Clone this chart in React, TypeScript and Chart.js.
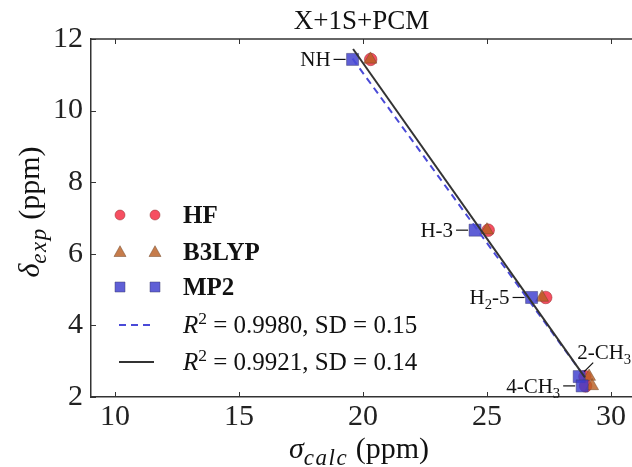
import React, { useEffect, useRef } from "react";
import { Chart, registerables } from "chart.js";
Chart.register(...registerables);

const pointLabels = ["NH", "H-3", "H2-5", "2-CH3", "4-CH3"];
const deltaExp = [11.43, 6.66, 4.78, 2.57, 2.31];
const sigmaHF = [20.31, 25.05, 27.37, 28.95, 28.98];
const sigmaB3LYP = [20.3, 25.0, 27.22, 29.12, 29.24];
const sigmaMP2 = [19.58, 24.52, 26.8, 28.72, 28.84];
const fitDashedX = [19.58, 28.95];
const fitDashedY = [11.45, 2.55];
const fitSolidX = [19.6, 28.95];
const fitSolidY = [11.72, 2.55];
const xTicks = [10, 15, 20, 25, 30];
const yTicks = [2, 4, 6, 8, 10, 12];
const seriesNames = ["HF", "B3LYP", "MP2"];
const fitR2 = ["0.9980", "0.9921"];
const fitSD = ["0.15", "0.14"];
const chartTitle = "X+1S+PCM";

const SERIF = "'Liberation Serif', 'DejaVu Serif', serif";
const COLORS = {
  hf: "rgba(245,55,75,0.88)",
  hfEdge: "rgba(140,40,40,0.8)",
  b3: "rgba(185,95,35,0.82)",
  b3Edge: "rgba(110,70,40,0.8)",
  mp2: "rgba(60,60,205,0.82)",
  mp2Edge: "rgba(60,60,110,0.8)",
  dashed: "#4a4ad8",
  solid: "#333333",
};

type Seg = { t: string; sub?: boolean; sup?: boolean; italic?: boolean; bold?: boolean; size?: number; ls?: number };

function parseLabel(s: string): Seg[] {
  const segs: Seg[] = [];
  let cur = "";
  for (let i = 0; i < s.length; i++) {
    const c = s[i];
    const prev = i > 0 ? s[i - 1] : "";
    if (/[0-9]/.test(c) && /[A-Za-z]/.test(prev)) {
      if (cur) segs.push({ t: cur });
      cur = "";
      segs.push({ t: c, sub: true });
    } else cur += c;
  }
  if (cur) segs.push({ t: cur });
  return segs;
}

function segSize(seg: Seg, size: number) {
  if (seg.size) return seg.size;
  return seg.sub || seg.sup ? size * 0.7 : size;
}
function segFont(seg: Seg, size: number) {
  return `${seg.italic ? "italic " : ""}${seg.bold ? "bold " : ""}${segSize(seg, size)}px ${SERIF}`;
}
function segWidth(ctx: CanvasRenderingContext2D, s: Seg, size: number) {
  ctx.font = segFont(s, size);
  return ctx.measureText(s.t).width + (s.ls || 0) * s.t.length;
}
function measureRich(ctx: CanvasRenderingContext2D, segs: Seg[], size: number) {
  let w = 0;
  for (const s of segs) w += segWidth(ctx, s, size);
  return w;
}
function drawRich(
  ctx: CanvasRenderingContext2D,
  segs: Seg[],
  x: number,
  yMid: number,
  size: number,
  align: "left" | "right" | "center"
) {
  const w = measureRich(ctx, segs, size);
  let cx = align === "left" ? x : align === "right" ? x - w : x - w / 2;
  const base = yMid + size * 0.33;
  ctx.textBaseline = "alphabetic";
  ctx.textAlign = "left";
  for (const s of segs) {
    ctx.font = segFont(s, size);
    const dy = s.sub ? size * 0.24 : s.sup ? -size * 0.38 : 0;
    if (s.ls) {
      let lx = cx;
      for (const ch of s.t) {
        ctx.fillText(ch, lx, base + dy);
        lx += ctx.measureText(ch).width + s.ls;
      }
    } else ctx.fillText(s.t, cx, base + dy);
    cx += segWidth(ctx, s, size);
  }
}

function drawMarker(ctx: CanvasRenderingContext2D, kind: string, x: number, y: number, r: number, fill: string, edge: string) {
  ctx.beginPath();
  if (kind === "circle") ctx.arc(x, y, r, 0, Math.PI * 2);
  else if (kind === "rect") ctx.rect(x - r, y - r, 2 * r, 2 * r);
  else {
    ctx.moveTo(x, y - r * 1.05);
    ctx.lineTo(x + r, y + r * 0.75);
    ctx.lineTo(x - r, y + r * 0.75);
    ctx.closePath();
  }
  ctx.fillStyle = fill;
  ctx.fill();
  ctx.strokeStyle = edge;
  ctx.lineWidth = 0.6;
  ctx.stroke();
}

const decorPlugin = {
  id: "decor",
  afterDraw(chart: any) {
    const ctx: CanvasRenderingContext2D = chart.ctx;
    const { left, right, top, bottom } = chart.chartArea;
    const xs = chart.scales.x;
    const ys = chart.scales.y;
    ctx.save();
    // top border
    ctx.strokeStyle = "#333";
    ctx.lineWidth = 1.5;
    ctx.beginPath();
    ctx.moveTo(left, top);
    ctx.lineTo(right, top);
    ctx.stroke();
    // inward ticks
    ctx.lineWidth = 1;
    ctx.beginPath();
    for (const v of xTicks) {
      const px = Math.round(xs.getPixelForValue(v)) + 0.5;
      ctx.moveTo(px, bottom);
      ctx.lineTo(px, bottom - 5);
      ctx.moveTo(px, top);
      ctx.lineTo(px, top + 5);
    }
    for (const v of yTicks) {
      const py = Math.round(ys.getPixelForValue(v)) + 0.5;
      ctx.moveTo(left, py);
      ctx.lineTo(left + 5, py);
    }
    ctx.stroke();

    ctx.fillStyle = "#111";
    // title
    ctx.font = `27px ${SERIF}`;
    ctx.textAlign = "center";
    ctx.textBaseline = "middle";
    ctx.fillText(chartTitle, (left + right) / 2, 22);

    // axis titles
    drawRich(
      ctx,
      [
        { t: "σ", italic: true, size: 30 },
        { t: "calc", italic: true, sub: true, size: 23, ls: 1.5 },
        { t: " (ppm)", size: 30 },
      ],
      359,
      448,
      29,
      "center"
    );
    ctx.save();
    ctx.translate(29, 212);
    ctx.rotate(-Math.PI / 2);
    drawRich(
      ctx,
      [
        { t: "δ", italic: true, size: 30 },
        { t: "exp", italic: true, sub: true, size: 23, ls: 1.5 },
        { t: " (ppm)", size: 30 },
      ],
      0,
      0,
      29,
      "center"
    );
    ctx.restore();

    // point annotations (anchored on MP2 points)
    const fs = 21;
    pointLabels.forEach((lab, i) => {
      const px = xs.getPixelForValue(sigmaMP2[i]);
      const py = ys.getPixelForValue(deltaExp[i]);
      const segs = parseLabel(lab);
      ctx.fillStyle = "#111";
      ctx.strokeStyle = "#111";
      ctx.lineWidth = 1.2;
      if (lab === "2-CH3") {
        ctx.beginPath();
        ctx.moveTo(px + 5, py - 5);
        ctx.lineTo(px + 14, py - 14);
        ctx.stroke();
        drawRich(ctx, segs, px - 2, py - 25, fs, "left");
      } else {
        ctx.beginPath();
        ctx.moveTo(px - 19, py);
        ctx.lineTo(px - 7, py);
        ctx.stroke();
        drawRich(ctx, segs, px - 22, py, fs, "right");
      }
    });

    // legend
    const rows = [215, 252, 287, 325, 362];
    const mx = [120, 155];
    const kinds = ["circle", "triangle", "rect"];
    const fills = [COLORS.hf, COLORS.b3, COLORS.mp2];
    const edges = [COLORS.hfEdge, COLORS.b3Edge, COLORS.mp2Edge];
    const rs = [5, 6, 5];
    seriesNames.forEach((name, i) => {
      for (const x of mx) drawMarker(ctx, kinds[i], x, rows[i], rs[i], fills[i], edges[i]);
      ctx.fillStyle = "#111";
      drawRich(ctx, [{ t: name, bold: true }], 183, rows[i], 25, "left");
    });
    for (let k = 0; k < 2; k++) {
      const y = rows[3 + k];
      ctx.beginPath();
      ctx.strokeStyle = k === 0 ? COLORS.dashed : COLORS.solid;
      ctx.lineWidth = 2;
      ctx.setLineDash(k === 0 ? [7, 5] : []);
      ctx.moveTo(119, y);
      ctx.lineTo(154, y);
      ctx.stroke();
      ctx.setLineDash([]);
      ctx.fillStyle = "#111";
      drawRich(
        ctx,
        [
          { t: "R", italic: true },
          { t: "2", sup: true },
          { t: " = " + fitR2[k] + ", SD = " + fitSD[k] },
        ],
        183,
        y,
        25,
        "left"
      );
    }
    ctx.restore();
  },
};

export default function App() {
  const ref = useRef<HTMLCanvasElement>(null);
  useEffect(() => {
    const tickFont = { family: SERIF, size: 30 };
    const chart = new Chart(ref.current!, {
      type: "scatter",
      data: {
        datasets: [
          {
            label: "fitSolid",
            data: fitSolidX.map((x, i) => ({ x, y: fitSolidY[i] })),
            showLine: true,
            pointRadius: 0,
            borderColor: COLORS.solid,
            borderWidth: 2,
            order: -2,
          } as any,
          {
            label: "fitDashed",
            data: fitDashedX.map((x, i) => ({ x, y: fitDashedY[i] })),
            showLine: true,
            pointRadius: 0,
            borderColor: COLORS.dashed,
            borderWidth: 2,
            borderDash: [7, 5],
            order: -1,
          },
          {
            label: "MP2",
            data: sigmaMP2.map((x, i) => ({ x, y: deltaExp[i] })),
            pointStyle: "rect",
            pointRadius: 8.5,
            backgroundColor: COLORS.mp2,
            borderColor: COLORS.mp2Edge,
            borderWidth: 0.6,
            order: 0,
          },
          {
            label: "B3LYP",
            data: sigmaB3LYP.map((x, i) => ({ x, y: deltaExp[i] })),
            pointStyle: "triangle",
            pointRadius: 7.5,
            backgroundColor: COLORS.b3,
            borderColor: COLORS.b3Edge,
            borderWidth: 0.6,
            order: 1,
          },
          {
            label: "HF",
            data: sigmaHF.map((x, i) => ({ x, y: deltaExp[i] })),
            pointStyle: "circle",
            pointRadius: 6.3,
            backgroundColor: COLORS.hf,
            borderColor: COLORS.hfEdge,
            borderWidth: 0.6,
            order: 2,
          },
        ],
      },
      options: {
        animation: false,
        responsive: false,
        devicePixelRatio: 1,
        layout: { autoPadding: false, padding: { top: 39, right: 0, left: 0, bottom: 0 } },
        plugins: { legend: { display: false }, tooltip: { enabled: false } },
        scales: {
          x: {
            type: "linear",
            min: 9.03,
            max: 30.85,
            afterBuildTicks: (s: any) => {
              s.ticks = xTicks.map((v) => ({ value: v }));
            },
            afterFit: (s: any) => {
              s.height = 70;
              s.paddingLeft = 0;
              s.paddingRight = 0;
            },
            grid: { display: false, drawTicks: false },
            border: { display: true, color: "#333", width: 1.5 },
            ticks: { font: tickFont, color: "#222", padding: 2, maxRotation: 0, autoSkip: false },
          },
          y: {
            type: "linear",
            min: 2,
            max: 12,
            afterBuildTicks: (s: any) => {
              s.ticks = yTicks.map((v) => ({ value: v }));
            },
            afterFit: (s: any) => {
              s.width = 91;
              s.paddingTop = 0;
              s.paddingBottom = 0;
            },
            grid: { display: false, drawTicks: false },
            border: { display: true, color: "#333", width: 1.5 },
            ticks: { font: tickFont, color: "#222", padding: 8, autoSkip: false },
          },
        },
      },
      plugins: [decorPlugin],
    } as any);
    return () => chart.destroy();
  }, []);
  return (
    <div style={{ position: "fixed", left: 0, top: 0, width: 632, height: 467, background: "#fff" }}>
      <canvas ref={ref} width={632} height={467} style={{ display: "block" }} />
    </div>
  );
}
